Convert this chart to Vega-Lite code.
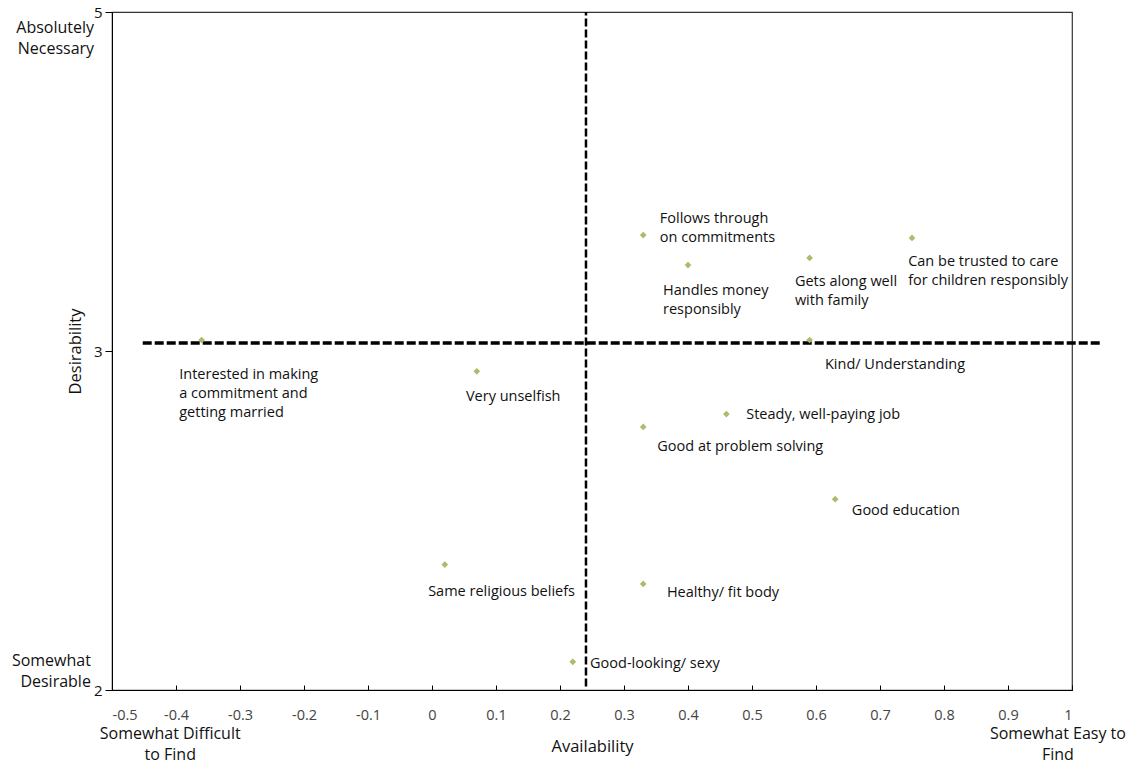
{
  "$schema": "https://vega.github.io/schema/vega-lite/v6.json",
  "width": 960,
  "height": 678,
  "autosize": "none",
  "padding": {"left": 112, "top": 12, "right": 70, "bottom": 75},
  "background": "white",
  "config": {
    "font": "Open Sans",
    "view": {"stroke": "#333", "strokeWidth": 1.2},
    "text": {"lineBreak": "\n"},
    "axis": {"grid": false, "labelFont": "Open Sans", "titleFont": "Open Sans", "titleFontWeight": "normal", "labelFontSize": 14.5, "titleFontSize": 16.5}
  },
  "datasets": {
    "traits": [
      {"trait": "Interested in making a commitment and getting married", "availability": -0.36, "desirability": 3.065},
      {"trait": "Very unselfish", "availability": 0.07, "desirability": 2.94},
      {"trait": "Same religious beliefs", "availability": 0.02, "desirability": 2.37},
      {"trait": "Good-looking/ sexy", "availability": 0.22, "desirability": 2.083},
      {"trait": "Follows through on commitments", "availability": 0.33, "desirability": 3.684},
      {"trait": "Handles money responsibly", "availability": 0.40, "desirability": 3.507},
      {"trait": "Gets along well with family", "availability": 0.59, "desirability": 3.549},
      {"trait": "Can be trusted to care for children responsibly", "availability": 0.75, "desirability": 3.667},
      {"trait": "Kind/ Understanding", "availability": 0.59, "desirability": 3.065},
      {"trait": "Steady, well-paying job", "availability": 0.46, "desirability": 2.814},
      {"trait": "Good at problem solving", "availability": 0.33, "desirability": 2.776},
      {"trait": "Good education", "availability": 0.63, "desirability": 2.563},
      {"trait": "Healthy/ fit body", "availability": 0.33, "desirability": 2.313}
    ],
    "labels": [
      {"text": "Interested in making\na commitment and\ngetting married", "x": -0.395, "y": 2.917},
      {"text": "Very unselfish", "x": 0.053, "y": 2.853},
      {"text": "Same religious beliefs", "x": -0.006, "y": 2.277},
      {"text": "Good-looking/ sexy", "x": 0.247, "y": 2.065},
      {"text": "Follows through\non commitments", "x": 0.356, "y": 3.755},
      {"text": "Handles money\nresponsibly", "x": 0.361, "y": 3.33},
      {"text": "Gets along well\nwith family", "x": 0.567, "y": 3.383},
      {"text": "Can be trusted to care\nfor children responsibly", "x": 0.744, "y": 3.501},
      {"text": "Kind/ Understanding", "x": 0.614, "y": 2.947},
      {"text": "Steady, well-paying job", "x": 0.491, "y": 2.799},
      {"text": "Good at problem solving", "x": 0.352, "y": 2.705},
      {"text": "Good education", "x": 0.656, "y": 2.516},
      {"text": "Healthy/ fit body", "x": 0.367, "y": 2.274}
    ],
    "hline": [{"x1": -0.452, "x2": 1.044, "y": 3.047}],
    "vline": [{"x": 0.2406, "y1": 2.01, "y2": 5}],
    "yNotes": [
      {"text": "Absolutely\nNecessary", "x": -0.528, "y": 4.876},
      {"text": "Somewhat\nDesirable", "x": -0.533, "y": 2.072}
    ],
    "xNotes": [
      {"text": "Somewhat Difficult\nto Find", "x": -0.409, "y": 1.854},
      {"text": "Somewhat Easy to\nFind", "x": 0.978, "y": 1.854}
    ]
  },
  "layer": [
    {
      "data": {"name": "hline"},
      "mark": {"type": "rule", "color": "black", "strokeWidth": 3.5, "strokeDash": [9, 3]},
      "encoding": {
        "x": {"field": "x1", "type": "quantitative", "scale": {"domain": [-0.5, 1], "nice": false, "zero": false},
          "axis": {"title": "Availability", "values": [-0.5, -0.4, -0.3, -0.2, -0.1, 0, 0.1, 0.2, 0.3, 0.4, 0.5, 0.6, 0.7, 0.8, 0.9, 1], "labelExpr": "datum.value < 0 ? '-' + format(-datum.value, '.1~f') : format(datum.value, '.1~f')", "domainColor": "black", "tickColor": "black", "tickSize": -5, "labelPadding": 23, "labelColor": "#444", "titleColor": "#111", "titlePadding": 17}},
        "x2": {"field": "x2"},
        "y": {"field": "y", "type": "quantitative", "scale": {"domain": [2, 3, 5], "range": [678, 339, 0], "nice": false, "zero": false},
          "axis": {"title": "Desirability", "values": [2, 3, 5], "format": "d", "domainColor": "black", "tickColor": "black", "tickSize": 7, "labelPadding": 3, "labelFontSize": 15, "labelColor": "#111", "titleColor": "#111", "titlePadding": 10}}
      }
    },
    {
      "data": {"name": "vline"},
      "mark": {"type": "rule", "color": "black", "strokeWidth": 2.5, "strokeDash": [8, 3]},
      "encoding": {
        "x": {"field": "x", "type": "quantitative"},
        "y": {"field": "y1", "type": "quantitative"},
        "y2": {"field": "y2"}
      }
    },
    {
      "data": {"name": "traits"},
      "mark": {"type": "point", "shape": "diamond", "filled": true, "color": "#a9bd6c", "size": 45, "opacity": 1},
      "encoding": {
        "x": {"field": "availability", "type": "quantitative"},
        "y": {"field": "desirability", "type": "quantitative"},
        "tooltip": {"field": "trait"}
      }
    },
    {
      "data": {"name": "labels"},
      "mark": {"type": "text", "align": "left", "baseline": "alphabetic", "fontSize": 14.5, "lineHeight": 19, "lineBreak": "\n", "color": "#111"},
      "encoding": {
        "x": {"field": "x", "type": "quantitative"},
        "y": {"field": "y", "type": "quantitative"},
        "text": {"field": "text"}
      }
    },
    {
      "data": {"name": "yNotes"},
      "mark": {"type": "text", "align": "right", "baseline": "alphabetic", "fontSize": 16, "lineHeight": 21, "lineBreak": "\n", "color": "#111"},
      "encoding": {
        "x": {"field": "x", "type": "quantitative"},
        "y": {"field": "y", "type": "quantitative"},
        "text": {"field": "text"}
      }
    },
    {
      "data": {"name": "xNotes"},
      "mark": {"type": "text", "align": "center", "baseline": "alphabetic", "fontSize": 16, "lineHeight": 21, "lineBreak": "\n", "color": "#111"},
      "encoding": {
        "x": {"field": "x", "type": "quantitative"},
        "y": {"field": "y", "type": "quantitative"},
        "text": {"field": "text"}
      }
    }
  ]
}
